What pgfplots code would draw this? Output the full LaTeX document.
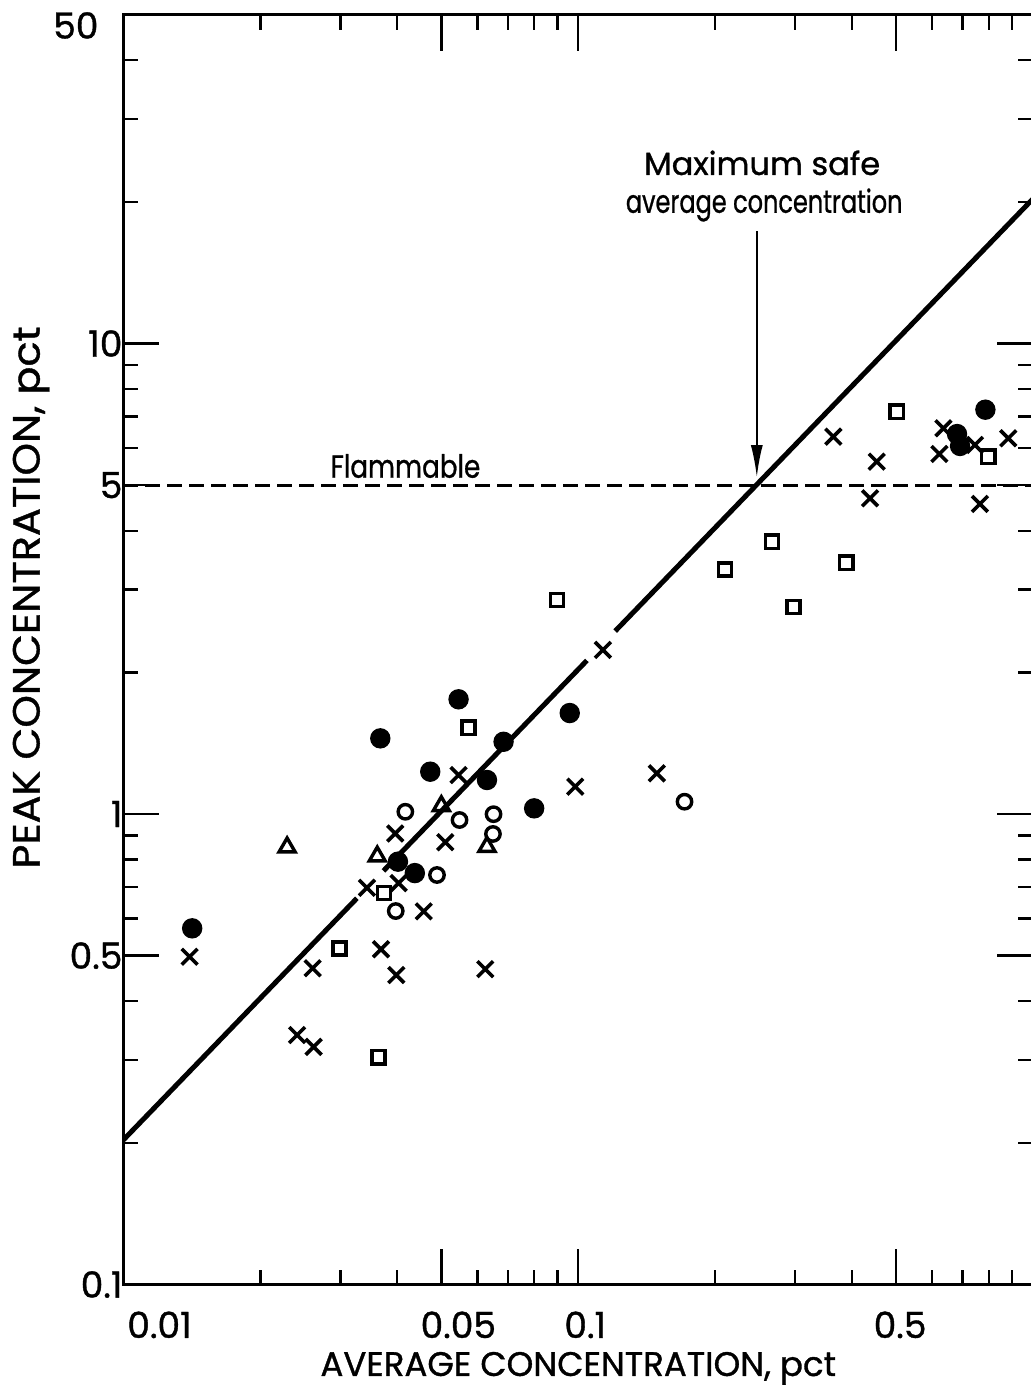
\documentclass[border=0pt]{standalone}
\usepackage{pgfplots}
\pgfplotsset{compat=1.18}
\usepackage{fontspec}
\setmainfont{Poppins}[FakeBold=1]
\usetikzlibrary{arrows.meta}
\begin{document}
\begin{tikzpicture}
\begin{axis}[
  name=ax,
  xmode=log, ymode=log,
  scale only axis, width=454.75pt, height=634.95pt,
  xmin=0.01, xmax=1, ymin=0.1, ymax=50,
  xtick={0.01,0.05,0.1,0.5},
  xticklabels={{\hspace*{36pt}0.01},{\hspace*{17pt}0.05},{\hspace*{7pt}0.1},{\hspace*{4pt}0.5}},
  minor xtick={0.02,0.03,0.04,0.06,0.07,0.08,0.09,0.2,0.3,0.4,0.6,0.7,0.8,0.9},
  ytick={0.1,0.5,1,5,10,50},
  yticklabels={0.1,0.5,1,5,10,{\raisebox{-12pt}[0pt][0pt]{50\hspace*{12pt}}}},
  minor ytick={0.2,0.3,0.4,0.6,0.7,0.8,0.9,2,3,4,6,7,8,9,20,30,40},
  tick align=inside,
  major tick length=18pt, minor tick length=7.5pt,
  tick style={black, line width=1.2pt},
  axis line style={line width=1.8pt},
  ticklabel style={font=\fontsize{18}{21}\selectfont},
  xticklabel style={yshift=-10pt},
  yticklabel style={xshift=3pt},
  xlabel={AVERAGE CONCENTRATION, pct},
  ylabel={\scalebox{1.09}[1]{PEAK CONCENTRATION, pct}},
  xlabel style={font=\fontsize{17}{20}\selectfont},
  ylabel style={font=\fontsize{19}{22}\selectfont, at={(ticklabel cs:0.541)}, anchor=near ticklabel},
  ylabel shift=-5pt,
]
% regression line (with gaps at markers)
\addplot[no marks, line width=2.5pt] coordinates {(0.01,0.203)(0.0326,0.662)};
\addplot[no marks, line width=2.5pt] coordinates {(0.0373,0.757)(0.1045,2.12)};
\addplot[no marks, line width=2.5pt] coordinates {(0.1206,2.448)(1,20.3)};
% flammable limit
\addplot[no marks, line width=1.5pt, dash pattern=on 7.5pt off 3.5pt] coordinates {(0.01,5)(1,5)};
% filled circles
\addplot[only marks, mark=*, mark size=4.8pt, mark options={fill=black, line width=0.6pt}] coordinates {
(0.01416,0.5715)(0.03671,1.448)(0.05456,1.753)(0.06852,1.424)(0.09579,1.639)(0.04727,1.230)(0.0630,1.181)(0.0800,1.028)(0.04014,0.792)(0.04372,0.749)(0.786,7.233)(0.6808,6.42)(0.6913,6.056)};
% open circles
\addplot[only marks, mark=o, mark size=3.6pt, mark options={line width=1.7pt}] coordinates {
(0.04167,1.011)(0.05483,0.971)(0.06513,0.999)(0.06494,0.907)(0.04891,0.742)(0.0397,0.622)(0.1713,1.062)};
% triangles
\addplot[only marks, mark=triangle, mark size=4.6pt, mark options={line width=1.7pt}] coordinates {
(0.0229,0.850)(0.0500,1.040)(0.0630,0.852)(0.03615,0.813)};
% squares
\addplot[only marks, mark=square, mark size=3.3pt, mark options={line width=1.7pt}] coordinates {
(0.02987,0.518)(0.03639,0.304)(0.03742,0.679)(0.0574,1.525)(0.0898,2.850)(0.2103,3.308)(0.2665,3.790)(0.3888,3.420)(0.2973,2.754)(0.5016,7.16)(0.7976,5.745)};
% crosses
\addplot[only marks, mark=x, mark size=5.6pt, mark options={line width=1.8pt}] coordinates {
(0.01398,0.4973)(0.02606,0.470)(0.02409,0.339)(0.02619,0.320)(0.03684,0.5159)(0.03981,0.4547)(0.03431,0.697)(0.04027,0.713)(0.0396,0.909)(0.04574,0.621)(0.05456,1.210)(0.05101,0.871)(0.1133,2.232)(0.0985,1.143)(0.1489,1.220)(0.06246,0.468)(0.364,6.338)(0.4533,5.609)(0.4383,4.688)(0.7646,4.56)(0.6354,6.603)(0.6227,5.823)(0.7455,6.086)(0.8825,6.289)};
% annotations
\node[font=\fontsize{16}{19}\selectfont] at (axis cs:0.2538,24.2) {Maximum safe};
\node[font=\fontsize{16}{19}\selectfont] at (axis cs:0.2564,19.7) {\scalebox{0.75}[1]{average concentration}};
\draw[-{Latex[length=16pt,width=6pt]}, line width=1pt] (axis cs:0.247,17.3) -- (axis cs:0.247,5.2);
\node[font=\fontsize{16}{19}\selectfont] at (axis cs:0.0417,5.49) {\scalebox{0.82}[1]{Flammable}};
\end{axis}
\pgfresetboundingbox
\path[use as bounding box] (ax.south west) ++(-61.75pt,-52.25pt) rectangle ++(515.5pt,694.5pt);
\end{tikzpicture}
\end{document}
